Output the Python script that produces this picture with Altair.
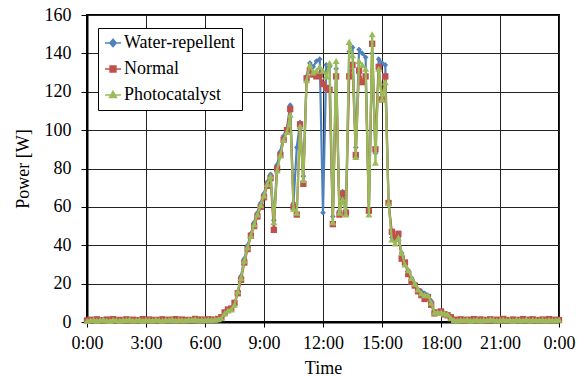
import altair as alt
import pandas as pd

series_names = ["Water-repellent", "Normal", "Photocatalyst"]
series_colors = ["#4F81BD", "#C0504D", "#9BBB59"]
x_ticks = [0, 3, 6, 9, 12, 15, 18, 21, 24]
y_ticks = [0, 20, 40, 60, 80, 100, 120, 140, 160]

# 10-minute samples from 0:00 to 24:00 (145 samples)
water_repellent = [
    0.4, 0.5, 0.3, 0.6, 0.4, 0.5, 0.7, 0.4, 0.3, 0.5, 0.6, 0.4, 0.5, 0.3, 0.6, 0.5, 0.4, 0.7, 0.5, 0.4,
    0.6, 0.3, 0.5, 0.4, 0.6, 0.5, 0.7, 0.4, 0.5, 0.3, 0.6, 0.4, 0.5, 0.8, 0.6, 0.5, 0.7, 0.6, 0.8, 0.9,
    1.2,
    2, 4, 6, 6.5, 9, 16, 24, 33, 40, 46, 52, 57, 62, 67, 73, 77, 53, 82, 89, 97, 101, 113, 62, 91, 104,
    76, 128, 135, 133, 136, 137, 57, 134, 133, 55, 132, 58, 68, 58, 141, 143, 91, 142, 140, 138, 59, 140,
    88, 137, 135, 134, 63, 44, 42, 44, 36, 30, 27, 23, 20, 17, 16, 15, 14, 11, 5, 5, 5, 4.5, 4, 2, 1,
    0.5, 0.4, 0.6, 0.3, 0.5, 0.4, 0.7, 0.5, 0.4, 0.6, 0.3, 0.5, 0.4, 0.6, 0.5, 0.7, 0.4, 0.5, 0.3, 0.6,
    0.4, 0.5, 0.6, 0.4, 0.5, 0.3, 0.6, 0.4, 0.5, 0.7, 0.4, 0.5,
]
normal = [
    0.8, 1.2, 0.6, 1.4, 0.9, 0.7, 1.3, 0.8, 1.5, 0.6, 1.1, 0.9, 1.4, 0.7, 1.2, 0.8, 1.0, 1.5, 0.7, 1.3,
    0.9, 1.1, 0.6, 1.4, 0.8, 1.2, 1.0, 1.5, 0.7, 1.3, 0.9, 1.1, 0.8, 1.6, 1.0, 1.3, 0.9, 1.4, 1.2, 1.1,
    1.6,
    2.5, 5, 6.5, 7, 10, 15, 22, 31, 38, 45, 50, 55, 60, 65, 71, 75, 48, 80, 87, 95, 100, 111, 60, 56, 103,
    72, 127, 131, 129, 128, 129, 124, 122, 121, 51, 128, 56, 67, 57, 128, 134, 87, 131, 125, 128, 58, 145,
    90, 133, 116, 128, 62, 47, 44, 46, 33, 31, 25, 21, 19, 16, 14, 12, 13, 9, 4.5, 5, 5.5, 4, 3.5, 2.5, 1.2,
    1.0, 1.4, 0.7, 1.2, 0.9, 1.5, 0.8, 1.3, 1.1, 0.7, 1.4, 0.9, 1.2, 0.8, 1.6, 1.0, 0.7, 1.3, 0.9, 1.1,
    1.5, 0.8, 1.2, 1.4, 0.7, 1.0, 1.3, 0.9, 1.5, 0.8, 1.2, 1.0,
]
photocatalyst = [
    0.6, 0.9, 1.1, 0.7, 1.0, 1.3, 0.8, 0.6, 1.2, 0.9, 0.7, 1.1, 1.0, 1.4, 0.8, 0.9, 1.2, 0.7, 1.1, 1.0,
    0.8, 1.3, 0.9, 0.7, 1.1, 1.0, 1.4, 0.8, 1.2, 1.0, 0.9, 1.3, 1.1, 1.5, 0.9, 1.2, 1.0, 1.3, 1.1, 1.4,
    1.5,
    2, 4.5, 6, 6.5, 9, 16, 23, 32, 39, 45, 51, 56, 61, 66, 72, 76, 52, 79, 87, 95, 99, 108, 59, 57, 102,
    74, 126, 134, 130, 131, 133, 131, 128, 135, 52, 136, 57, 64, 56, 146, 139, 86, 136, 134, 132, 56, 150,
    83, 132, 116, 125, 62, 43, 41, 44, 36, 30, 27, 23, 20, 17, 15, 14, 14, 10, 5, 5, 5, 4.5, 4, 2, 1,
    0.8, 1.1, 0.9, 1.3, 0.7, 1.0, 1.2, 0.8, 1.1, 0.9, 1.4, 1.2, 0.8, 1.0, 1.3, 0.9, 1.1, 0.7, 1.2, 1.0,
    0.9, 1.3, 0.8, 1.1, 1.0, 0.9, 1.2, 0.8, 1.1, 0.9, 1.0, 1.2,
]

hours = [i / 6 for i in range(len(water_repellent))]

rows = []
for name, vals in zip(series_names, [water_repellent, normal, photocatalyst]):
    for h, v in zip(hours, vals):
        rows.append({"hour": h, "series": name, "power": v})
df = pd.DataFrame(rows)

FONT = "Liberation Serif"

x_enc = alt.X(
    "hour:Q",
    scale=alt.Scale(domain=[0, 24], nice=False, zero=False),
    axis=alt.Axis(
        values=x_ticks,
        labelExpr="(datum.value % 24) + ':00'",
        title="Time",
        titlePadding=7,
        labelPadding=7,
        tickSize=5,
    ),
)
y_enc = alt.Y(
    "power:Q",
    scale=alt.Scale(domain=[0, 160], nice=False),
    axis=alt.Axis(
        values=y_ticks,
        title="Power [W]",
        titlePadding=12,
        labelPadding=10,
        tickSize=6,
    ),
)

base = alt.Chart(df)

marker_shapes = ["diamond", "square", "triangle-up"]
marker_sizes = [32, 40, 50]

layers = []
for name, col, shp, sz in zip(series_names, series_colors, marker_shapes, marker_sizes):
    sub = base.transform_filter(alt.datum.series == name)
    layers.append(sub.mark_line(color=col, strokeWidth=2.2).encode(x=x_enc, y=y_enc))
    layers.append(
        sub.mark_point(filled=True, shape=shp, color=col, size=sz, opacity=1).encode(x=x_enc, y=y_enc)
    )

legend_paths = [
    "M-1,0L1,0M0,-0.45L0.4,0L0,0.45L-0.4,0Z",
    "M-1,0L1,0M-0.36,-0.36L0.36,-0.36L0.36,0.36L-0.36,0.36Z",
    "M-1,0L1,0M0,-0.45L0.42,0.3L-0.42,0.3Z",
]

leg = alt.Legend(
    title=None,
    orient="none",
    legendX=11,
    legendY=13,
    padding=6,
    strokeColor="#000000",
    fillColor="#ffffff",
    cornerRadius=0,
    symbolSize=256,
    symbolStrokeWidth=1.6,
    labelFontSize=18,
    labelFont=FONT,
    labelColor="#000000",
    labelOffset=2,
    rowPadding=8,
    labelLimit=300,
)

legend_layer = base.transform_filter("false").mark_point(filled=True, opacity=1).encode(
    x=x_enc,
    y=y_enc,
    fill=alt.Fill("series:N", scale=alt.Scale(domain=series_names, range=series_colors), legend=leg),
    stroke=alt.Stroke("series:N", scale=alt.Scale(domain=series_names, range=series_colors), legend=leg),
    shape=alt.Shape("series:N", scale=alt.Scale(domain=series_names, range=legend_paths), legend=leg),
)
layers.append(legend_layer)

chart = (
    alt.layer(*layers)
    .properties(
        width=472,
        height=307,
        autosize=alt.AutoSizeParams(type="none"),
        padding={"left": 87, "top": 15, "right": 25, "bottom": 54},
    )
    .configure(font=FONT, background="#ffffff")
    .configure_view(stroke="#000000", strokeWidth=2)
    .configure_legend(labelFont=FONT, labelFontSize=18, labelColor="#000000")
    .configure_axis(
        labelFont=FONT,
        titleFont=FONT,
        labelFontSize=18,
        titleFontSize=18,
        titleFontWeight="normal",
        labelColor="#000000",
        titleColor="#000000",
        domainColor="#000000",
        domainWidth=2,
        tickColor="#000000",
        tickWidth=1,
        gridColor="#222222",
        gridWidth=1,
        gridOpacity=1,
        labelFlush=False,
        labelOverlap=False,
    )
)

chart.save("out.html", embed_options={"renderer": "svg", "actions": False})
